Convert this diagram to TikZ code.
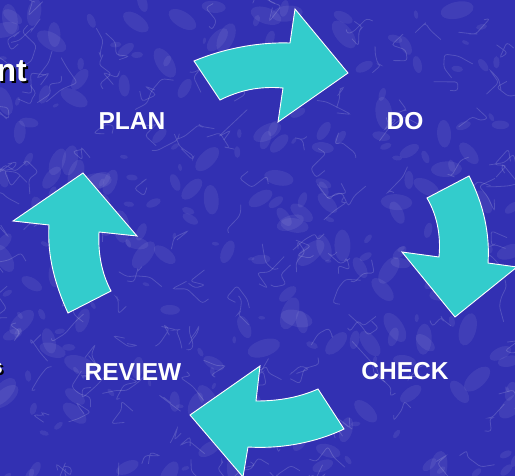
\documentclass[tikz,border=0pt]{standalone}
\usepackage{fontspec}
\setmainfont{Liberation Sans}
\usepackage{tikz}
\usetikzlibrary{positioning}

\definecolor{marbleblue}{RGB}{50,48,178}
\definecolor{arrowcyan}{RGB}{51,204,204}

\tikzset{
  cyclearrow/.style={fill=arrowcyan, draw=white, line width=0.9pt, line join=miter},
  steplabel/.style={text=white, font=\fontsize{24.5}{24.5}\selectfont\bfseries, inner sep=0pt},
  edgetext/.style={anchor=east, text=white, inner sep=0pt},
  vein/.style={draw=white, opacity=0.16, line width=0.8pt, rounded corners=3pt},
  cloud/.style={fill=white, opacity=0.07},
}
% white text with a black drop shadow
\newcommand{\shadowed}[1]{\rlap{\raisebox{-2pt}{\kern2pt\textcolor{black}{#1}}}#1}

\begin{document}
\begin{tikzpicture}[x=1pt, y=-1pt]
        \useasboundingbox (0,0) rectangle (515,476);
        \clip (0,0) rectangle (515,476);
        % marble background
        \fill[marbleblue] (0,0) rectangle (515,476);
        \pgfmathsetseed{42}
        \foreach \i in {1,...,260} {
            \pgfmathsetmacro\cx{rnd*515}
            \pgfmathsetmacro\cy{rnd*476}
            \pgfmathsetmacro\cr{3+rnd*14}
            \fill[cloud, rotate around={rnd*180:(\cx,\cy)}] (\cx,\cy) ellipse ({\cr} and {\cr*0.5});
        }
        \foreach \i in {1,...,160} {
            \pgfmathsetmacro\vx{rnd*515}
            \pgfmathsetmacro\vy{rnd*476}
            \draw[vein] (\vx,\vy) -- ++(rand*16,rand*16) -- ++(rand*16,rand*16) -- ++(rand*16,rand*16) -- ++(rand*12,rand*12);
        }

        % cut-off heading texts at the left edge
        \node[edgetext, font=\fontsize{32}{32}\selectfont\bfseries] (head) at (27,72) {\shadowed{nt}};
        \node[edgetext, font=\fontsize{20}{20}\selectfont\bfseries] (side) at (3,369) {\shadowed{s}};

        % step labels
        \node[steplabel] (plan) at (132,121) {PLAN};
        \node[steplabel] (do) at (405,121) {DO};
        \node[steplabel] (check) at (405,371) {CHECK};
        \node[steplabel] (review) at (133,372) {REVIEW};

        % PLAN -> DO
        \path[cyclearrow] (194,61) .. controls (225,48) and (260,42) .. (290,43) -- (295,9) -- (348,73)
            -- (278,122) -- (283,88) .. controls (260,86) and (240,90) .. (220,100) -- cycle;
        % DO -> CHECK
        \path[cyclearrow] (427,198) -- (469,176) .. controls (484,205) and (490,235) .. (488,263) -- (517,267)
            -- (455,317) -- (402,252) -- (439,257) .. controls (441,235) and (437,215) .. (427,198) -- cycle;
        % CHECK -> REVIEW
        \path[cyclearrow] (318,389) -- (344,429) .. controls (315,443) and (280,449) .. (248,447) -- (243,477)
            -- (190,415) -- (260,366) -- (256,401) .. controls (280,401) and (300,397) .. (318,389) -- cycle;
        % REVIEW -> PLAN
        \path[cyclearrow] (68,313) -- (111,291) .. controls (101,272) and (98,252) .. (99,232) -- (137,236)
            -- (83,173) -- (13,221) -- (49,225) .. controls (47,255) and (55,285) .. (68,313) -- cycle;
    \end{tikzpicture}
\end{document}
